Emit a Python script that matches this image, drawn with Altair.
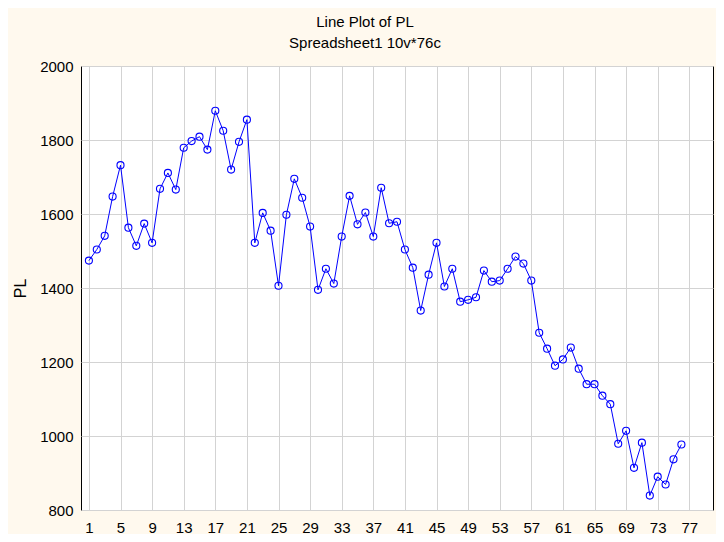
import altair as alt
import pandas as pd

case_numbers = list(range(1, 77))
pl_values = [
    1474, 1504, 1541, 1647, 1732, 1563, 1514, 1574, 1522, 1668,
    1711, 1666, 1779, 1797, 1809, 1774, 1879, 1825, 1720, 1795,
    1855, 1522, 1603, 1555, 1406, 1598, 1695, 1644, 1566, 1395,
    1452, 1412, 1539, 1649, 1572, 1604, 1539, 1671, 1575, 1579,
    1504, 1455, 1339, 1436, 1522, 1404, 1452, 1363, 1368, 1375,
    1447, 1417, 1420, 1452, 1485, 1466, 1420, 1279, 1236, 1190,
    1207, 1239, 1182, 1140, 1140, 1109, 1086, 979, 1014, 914,
    982, 839, 890, 869, 937, 977,
]
x_ticks = list(range(1, 78, 4))
y_ticks = [800, 1000, 1200, 1400, 1600, 1800, 2000]

df = pd.DataFrame({"case": case_numbers, "PL": pl_values})

FONT = "Liberation Sans"

x_enc = alt.X(
    "case:Q",
    scale=alt.Scale(domain=[0, 80], nice=False, zero=False),
    axis=alt.Axis(
        values=x_ticks, title=None, ticks=False, tickSize=0, labelPadding=10,
        labelFontSize=15, labelFont=FONT, labelColor="#000000", format="d",
        grid=True, gridColor="#D3D3D3", domain=False, labelFlush=False,
    ),
)
y_enc = alt.Y(
    "PL:Q",
    scale=alt.Scale(domain=[800, 2000], nice=False, zero=False),
    axis=alt.Axis(
        values=y_ticks, title="PL", ticks=False, tickSize=0, labelPadding=8,
        labelFontSize=15, labelFont=FONT, labelColor="#000000", format="d",
        grid=True, gridColor="#D3D3D3", domain=False,
        titleFont=FONT, titleFontSize=16, titleFontWeight="normal",
        titleColor="#000000", titleAngle=270, titleX=-56, titleY=222,
        titleAlign="center", titleBaseline="alphabetic", labelFlush=False,
    ),
)

line = alt.Chart(df).mark_line(color="#0000FF", strokeWidth=1).encode(x=x_enc, y=y_enc)
points = alt.Chart(df).mark_point(
    shape="circle", filled=False, color="#0000FF", strokeWidth=1.1, size=50, opacity=1
).encode(x=x_enc, y=y_enc)

chart = (
    alt.layer(line, points)
    .properties(
        width=632,
        height=444,
        title=alt.TitleParams(
            text="Line Plot of PL",
            subtitle="Spreadsheet1 10v*76c",
            font=FONT, fontSize=15, fontWeight="normal", color="#000000",
            subtitleFont=FONT, subtitleFontSize=15, subtitleColor="#000000",
            subtitlePadding=6, anchor="middle", offset=8, dx=-32,
        ),
        autosize=alt.AutoSizeParams(type="none"),
        padding={"left": 73, "top": 58, "right": 3, "bottom": 24},
        background="#FFF9EE",
    )
    .configure_view(stroke="#000000", strokeWidth=1, fill="#FFFFFF")
)

chart.save("out.html", embed_options={"renderer": "svg", "actions": False})
